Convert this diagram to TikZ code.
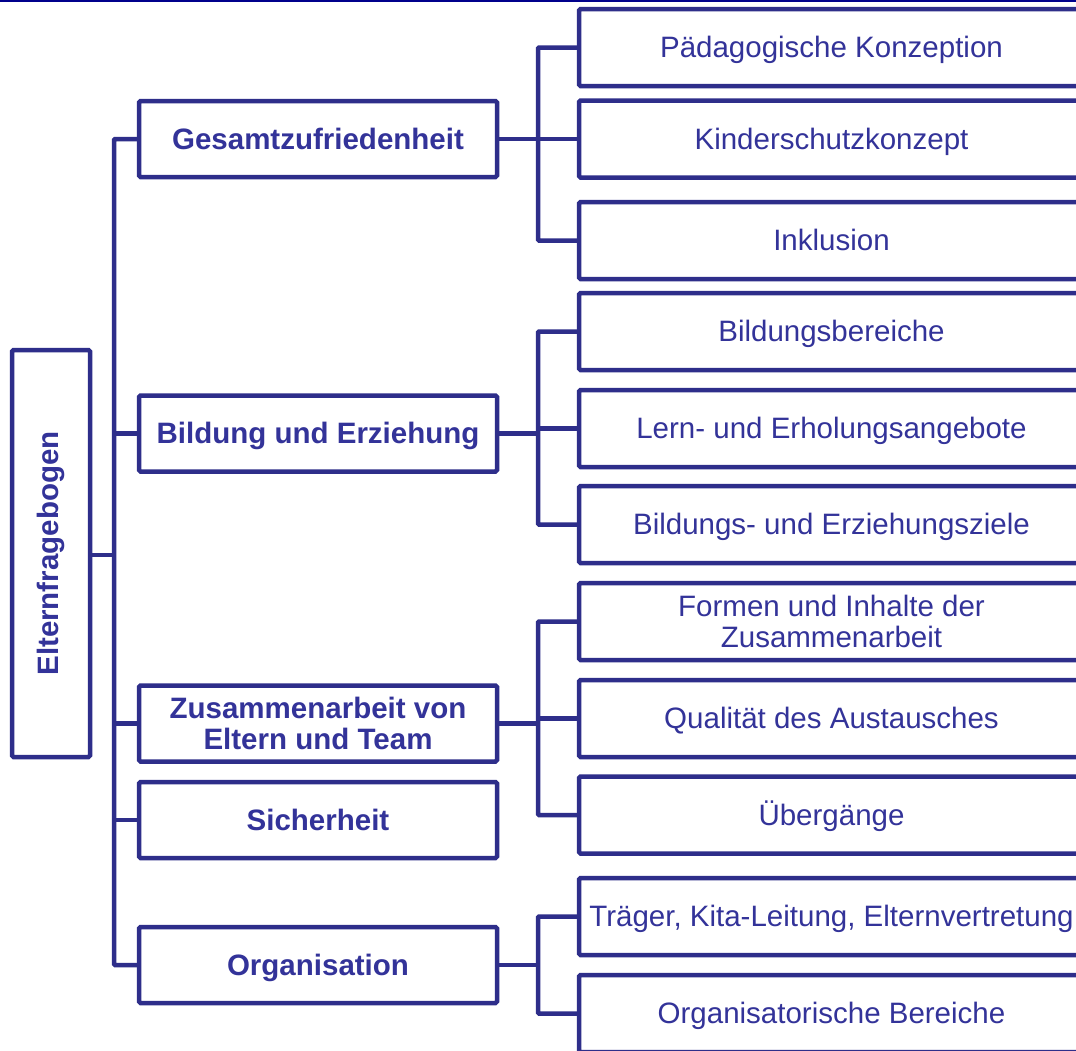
\documentclass[tikz,border=0pt]{standalone}
\usepackage{fontspec}
\setmainfont{Liberation Sans}
\definecolor{linecol}{RGB}{46,46,138}
\definecolor{textcol}{RGB}{51,51,153}
\definecolor{topcol}{RGB}{0,0,140}
\begin{document}
\begin{tikzpicture}[x=1pt,y=-1pt,
  box/.style={draw=linecol, line width=4.5pt, rounded corners=1.5pt, fill=white,
    inner sep=0pt, align=center, text=textcol, font=\fontsize{29.5}{31.5}\selectfont},
  oneline/.style={text height=26.7pt, text depth=6.25pt},
  midbox/.style={box, minimum width=358pt, minimum height=76pt, font=\fontsize{29.5}{31.5}\selectfont\bfseries},
  subbox/.style={box, minimum width=505pt, minimum height=77pt},
  conn/.style={draw=linecol, line width=4.5pt, rounded corners=1pt}]
\useasboundingbox (0,0) rectangle (1076,1050);
\clip (0,0) rectangle (1076,1050);
\fill[white] (0,0) rectangle (1076,1050);
\draw[topcol, line width=2.5pt] (0,1) -- (1076,1);

% root
\node[box, minimum width=78pt, minimum height=407pt, font=\fontsize{29.5}{31.5}\selectfont\bfseries] (root) at (51,553.5) {\rotatebox{90}{Elternfragebogen}};

% middle level
\node[midbox, oneline] (g1) at (318,139) {Gesamtzufriedenheit};
\node[midbox, oneline] (g2) at (318,433.5) {Bildung und Erziehung};
\node[midbox] (g3) at (318,723.5) {Zusammenarbeit von\\Eltern und Team};
\node[midbox, oneline] (g4) at (318,820) {Sicherheit};
\node[midbox, oneline] (g5) at (318,965) {Organisation};

% right level
\node[subbox, oneline] (r11) at (831.5,47.5) {Pädagogische Konzeption};
\node[subbox, oneline] (r12) at (831.5,139) {Kinderschutzkonzept};
\node[subbox, oneline] (r13) at (831.5,240.5) {Inklusion};
\node[subbox, oneline] (r21) at (831.5,331.5) {Bildungsbereiche};
\node[subbox, oneline] (r22) at (831.5,428.5) {Lern- und Erholungsangebote};
\node[subbox, oneline] (r23) at (831.5,524.5) {Bildungs- und Erziehungsziele};
\node[subbox] (r31) at (831.5,621.5) {Formen und Inhalte der\\Zusammenarbeit};
\node[subbox, oneline] (r32) at (831.5,718.5) {Qualität des Austausches};
\node[subbox, oneline] (r33) at (831.5,815) {Übergänge};
\node[subbox, oneline] (r41) at (831.5,916.5) {Träger, Kita-Leitung, Elternvertretung};
\node[subbox, oneline] (r42) at (831.5,1013.5) {Organisatorische Bereiche};

% main trunk
\coordinate (m) at (114,555);
\draw[conn] (g1.west) -| (m) |- (g5.west);
\draw[conn] (root.east |- m) -- (m);
\draw[conn] (g2.west) -- (m |- g2.west);
\draw[conn] (g3.west) -- (m |- g3.west);
\draw[conn] (g4.west) -- (m |- g4.west);

% branch trunks
\coordinate (j1) at (538,139);
\draw[conn] (r11.west) -| (j1) |- (r13.west);
\draw[conn] (g1.east) -- (j1);
\draw[conn] (r12.west) -- (j1 |- r12.west);

\coordinate (j2) at (538,433.5);
\draw[conn] (r21.west) -| (j2) |- (r23.west);
\draw[conn] (g2.east) -- (j2);
\draw[conn] (r22.west) -- (j2 |- r22.west);

\coordinate (j3) at (538,723.5);
\draw[conn] (r31.west) -| (j3) |- (r33.west);
\draw[conn] (g3.east) -- (j3);
\draw[conn] (r32.west) -- (j3 |- r32.west);

\coordinate (j4) at (538,965);
\draw[conn] (r41.west) -| (j4) |- (r42.west);
\draw[conn] (g5.east) -- (j4);
\end{tikzpicture}
\end{document}
